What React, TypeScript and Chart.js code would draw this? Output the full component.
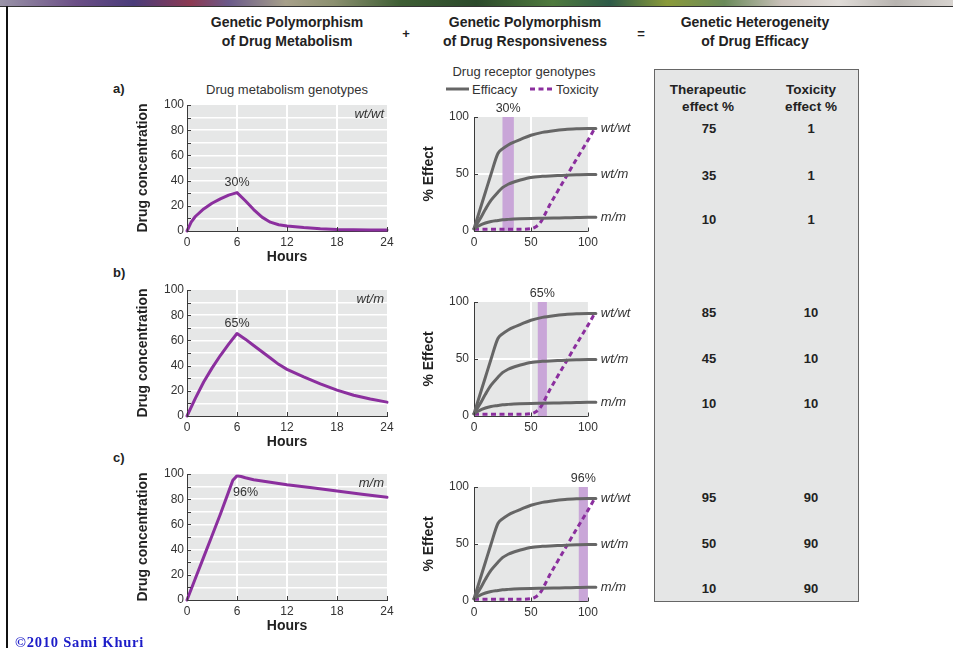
import React, { useEffect, useRef } from 'react';
import { Chart, registerables } from 'chart.js';

Chart.register(...registerables);

const FONT = "'Liberation Sans', Arial, Helvetica, sans-serif";
Chart.defaults.font.family = FONT;
Chart.defaults.color = '#333';

// ---------------- data ----------------
const hourTicks = [0, 6, 12, 18, 24];
const concTicks = [0, 10, 20, 30, 40, 50, 60, 70, 80, 90, 100];
const effectTicks = [0, 50, 100];

// drug metabolism genotypes: concentration vs hours
const hoursA = [0, 0.5, 1, 2, 3, 4, 5, 6, 7, 8, 9, 10, 11, 12, 14, 16, 18, 20, 22, 24];
const concA = [0, 7, 11.5, 17.5, 22, 25.5, 28.5, 30.5, 24, 17, 11, 7, 5, 4, 2.7, 1.7, 1.1, 0.9, 0.8, 0.8];
const hoursB = [0, 1, 2, 3, 4, 5, 6, 7, 8, 9, 10, 11, 12, 14, 16, 18, 20, 22, 24];
const concB = [0, 14, 27, 38, 48, 57, 65.5, 61, 56, 51, 46, 41, 37, 31, 25.5, 20.5, 16.5, 13.5, 11];
const hoursC = [0, 1, 2, 3, 4, 5, 5.5, 6, 6.5, 7, 8, 9, 10, 12, 15, 18, 21, 24];
const concC = [0, 17, 34, 51, 68, 86, 95, 98.5, 98, 97, 95.5, 94.5, 93.5, 91.5, 89, 86.5, 84, 81.5];

const metabolismGenotypes = ['wt/wt', 'wt/m', 'm/m'];
const peakLabels = ['30%', '65%', '96%'];

// drug receptor genotypes: % effect vs dose
const doses = [0, 5, 10, 15, 21, 25, 30, 35, 40, 50, 60, 70, 80, 90, 100, 107];
const effWtWt = [2, 18, 34, 50, 68, 72, 75.5, 78, 80, 84, 86.5, 88, 89, 89.6, 90, 90];
const effWtM = [2, 10, 19, 27, 34, 38, 41, 43, 44.5, 47, 48, 48.5, 49, 49.3, 49.5, 49.5];
const effMM = [2, 5, 7, 8.3, 9.2, 9.8, 10.2, 10.5, 10.7, 11, 11.2, 11.4, 11.6, 11.8, 12, 12];
const toxDoses = [0, 10, 20, 30, 40, 50, 54, 58, 62, 66, 70, 80, 90, 100, 106];
const toxicity = [1.5, 1.5, 1.5, 1.5, 1.5, 2, 3.5, 7, 14, 22, 29, 46, 63, 79.5, 90];
const receptorGenotypes = ['wt/wt', 'wt/m', 'm/m'];

// concentration windows (purple bands) on the dose axis
const bandA = [25, 35];
const bandB = [56, 64];
const bandC = [92, 100];

// table
const therapeuticA = [75, 35, 10];
const therapeuticB = [85, 45, 10];
const therapeuticC = [95, 50, 10];
const toxicityA = [1, 1, 1];
const toxicityB = [10, 10, 10];
const toxicityC = [90, 90, 90];

// ---------------- styles ----------------
const PLOT_BG = '#e6e7e7';
const PURPLE = '#8b2f9e';
const EFF = '#666666';
const BAND = '#c9a6d8';
const TEXT = '#333333';
const TITLE = '#222222';
const AXIS = '#3a3a3a';
const CLEAR = 'rgba(0,0,0,0)';

function makeConc(xs: number[], ys: number[], genotype: string, peakText: string, below: boolean) {
  const deco = {
    id: 'concDeco',
    beforeDraw(chart: any) {
      const { ctx, chartArea: a } = chart;
      ctx.save();
      ctx.fillStyle = PLOT_BG;
      ctx.fillRect(a.left, a.top, a.right - a.left, a.bottom - a.top);
      ctx.restore();
    },
    afterDraw(chart: any) {
      const { ctx, chartArea: a, scales } = chart;
      const x = scales.x;
      const y = scales.y;
      ctx.save();
      ctx.strokeStyle = AXIS;
      ctx.lineWidth = 1;
      ctx.beginPath();
      y.ticks.forEach((t: any) => {
        const py = Math.round(y.getPixelForValue(t.value)) + 0.5;
        ctx.moveTo(a.left, py);
        ctx.lineTo(a.left + 4, py);
      });
      x.ticks.forEach((t: any) => {
        const px = Math.round(x.getPixelForValue(t.value)) + 0.5;
        ctx.moveTo(px, a.bottom);
        ctx.lineTo(px, a.bottom - 4);
      });
      ctx.stroke();
      ctx.fillStyle = TEXT;
      ctx.textBaseline = 'middle';
      ctx.font = `italic 13px ${FONT}`;
      ctx.textAlign = 'right';
      ctx.fillText(genotype, x.getPixelForValue(x.max) - 3, y.getPixelForValue(y.max) + 9);
      const peak = Math.max(...ys);
      const i = ys.indexOf(peak);
      const px = x.getPixelForValue(xs[i]);
      const py = y.getPixelForValue(peak);
      ctx.font = `12.5px ${FONT}`;
      if (below) {
        ctx.textAlign = 'left';
        ctx.fillText(peakText, px - 4, py + 17);
      } else {
        ctx.textAlign = 'center';
        ctx.fillText(peakText, px, py - 10);
      }
      ctx.restore();
    },
  };
  return {
    type: 'line',
    data: {
      datasets: [
        {
          data: xs.map((v, i) => ({ x: v, y: ys[i] })),
          borderColor: PURPLE,
          borderWidth: 3,
          pointRadius: 0,
          tension: 0,
          clip: false,
          borderJoinStyle: 'round',
          borderCapStyle: 'round',
        },
      ],
    },
    options: {
      responsive: false,
      animation: false,
      events: [],
      layout: { padding: { top: 25, right: 13, left: 0, bottom: 0 } },
      plugins: { legend: { display: false }, tooltip: { enabled: false } },
      scales: {
        x: {
          type: 'linear',
          min: 0,
          max: 24,
          afterBuildTicks: (s: any) => {
            s.ticks = hourTicks.map((v) => ({ value: v }));
          },
          afterFit: (s: any) => {
            s.height = 35;
          },
          grid: {
            color: (c: any) => (c.tick && c.tick.value > 0 && c.tick.value < 24 ? '#ffffff' : CLEAR),
            lineWidth: 2,
            drawTicks: false,
          },
          border: { display: true, color: AXIS, width: 1 },
          ticks: { padding: 4, maxRotation: 0, autoSkip: false, color: TEXT, font: { size: 12 } },
          title: { display: true, text: 'Hours', color: TITLE, font: { size: 14, weight: 'bold' }, padding: 0 },
        },
        y: {
          type: 'linear',
          min: 0,
          max: 100,
          afterBuildTicks: (s: any) => {
            s.ticks = concTicks.map((v) => ({ value: v }));
          },
          afterFit: (s: any) => {
            s.width = 59;
          },
          grid: {
            color: (c: any) => (c.tick && c.tick.value > 0 && c.tick.value < 100 ? '#ffffff' : CLEAR),
            lineWidth: 1.5,
            drawTicks: false,
          },
          border: { display: true, color: AXIS, width: 1 },
          ticks: {
            padding: 3,
            autoSkip: false,
            color: TEXT,
            font: { size: 12 },
            callback: (v: any) => (Number(v) % 20 === 0 ? String(v) : ''),
          },
          title: {
            display: true,
            text: 'Drug concentration',
            color: TITLE,
            font: { size: 14, weight: 'bold' },
            padding: { top: 7, bottom: 0 },
          },
        },
      },
    },
    plugins: [deco],
  };
}

function makeEffect(band: number[], bandText: string) {
  const series = [effWtWt, effWtM, effMM];
  const deco = {
    id: 'effDeco',
    beforeDraw(chart: any) {
      const { ctx, scales } = chart;
      const x = scales.x;
      const y = scales.y;
      const l = x.getPixelForValue(0);
      const r = x.getPixelForValue(100);
      const t = y.getPixelForValue(100);
      const b = y.getPixelForValue(0);
      ctx.save();
      ctx.fillStyle = PLOT_BG;
      ctx.fillRect(l, t, r - l, b - t);
      ctx.restore();
    },
    beforeDatasetsDraw(chart: any) {
      const { ctx, scales } = chart;
      const x = scales.x;
      const y = scales.y;
      const l = x.getPixelForValue(band[0]);
      const r = x.getPixelForValue(band[1]);
      const t = y.getPixelForValue(100);
      const b = y.getPixelForValue(0);
      ctx.save();
      ctx.fillStyle = BAND;
      ctx.fillRect(l, t, r - l, b - t);
      ctx.fillStyle = TEXT;
      ctx.font = `12.5px ${FONT}`;
      ctx.textAlign = 'center';
      ctx.textBaseline = 'middle';
      ctx.fillText(bandText, (l + r) / 2, t - 8);
      ctx.restore();
    },
    afterDraw(chart: any) {
      const { ctx, scales } = chart;
      const x = scales.x;
      const y = scales.y;
      const x0 = x.getPixelForValue(0);
      const x100 = x.getPixelForValue(100);
      const b = Math.round(y.getPixelForValue(0)) + 0.5;
      ctx.save();
      ctx.strokeStyle = AXIS;
      ctx.lineWidth = 1;
      ctx.beginPath();
      ctx.moveTo(x0, b);
      ctx.lineTo(x100, b);
      effectTicks.forEach((v) => {
        const px = Math.round(x.getPixelForValue(v)) + 0.5;
        ctx.moveTo(px, b);
        ctx.lineTo(px, b - 4);
        const py = Math.round(y.getPixelForValue(v)) + 0.5;
        ctx.moveTo(x0, py);
        ctx.lineTo(x0 + 4, py);
      });
      ctx.stroke();
      ctx.fillStyle = TEXT;
      ctx.font = `italic 13px ${FONT}`;
      ctx.textAlign = 'left';
      ctx.textBaseline = 'middle';
      series.forEach((s, i) => {
        const lx = x.getPixelForValue(doses[doses.length - 1]) + 5;
        const ly = y.getPixelForValue(s[s.length - 1]);
        ctx.fillText(receptorGenotypes[i], lx, ly);
      });
      ctx.restore();
    },
  };
  const eff = (s: number[]) => ({
    data: doses.map((d, i) => ({ x: d, y: s[i] })),
    borderColor: EFF,
    borderWidth: 3,
    pointRadius: 0,
    cubicInterpolationMode: 'monotone',
    clip: false,
    borderCapStyle: 'round',
  });
  return {
    type: 'line',
    data: {
      datasets: [
        eff(effWtWt),
        eff(effWtM),
        eff(effMM),
        {
          data: toxDoses.map((d, i) => ({ x: d, y: toxicity[i] })),
          borderColor: PURPLE,
          borderWidth: 3,
          borderDash: [5, 3.5],
          pointRadius: 0,
          cubicInterpolationMode: 'monotone',
          clip: false,
        },
      ],
    },
    options: {
      responsive: false,
      animation: false,
      events: [],
      layout: { padding: { top: 22, right: 53, left: 0, bottom: 0 } },
      plugins: { legend: { display: false }, tooltip: { enabled: false } },
      scales: {
        x: {
          type: 'linear',
          min: 0,
          max: 108,
          afterBuildTicks: (s: any) => {
            s.ticks = effectTicks.map((v) => ({ value: v }));
          },
          afterFit: (s: any) => {
            s.height = 18;
          },
          grid: {
            color: (c: any) => (c.tick && c.tick.value === 50 ? '#ffffff' : CLEAR),
            lineWidth: 2,
            drawTicks: false,
          },
          border: { display: false },
          ticks: { padding: 4, maxRotation: 0, autoSkip: false, color: TEXT, font: { size: 12 } },
        },
        y: {
          type: 'linear',
          min: 0,
          max: 100,
          afterBuildTicks: (s: any) => {
            s.ticks = effectTicks.map((v) => ({ value: v }));
          },
          afterFit: (s: any) => {
            s.width = 62;
          },
          grid: {
            color: (c: any) => (c.tick && c.tick.value === 50 ? '#ffffff' : CLEAR),
            lineWidth: 2,
            drawTicks: false,
          },
          border: { display: true, color: AXIS, width: 1 },
          ticks: { padding: 5, autoSkip: false, color: TEXT, font: { size: 12 } },
          title: {
            display: true,
            text: '% Effect',
            color: TITLE,
            font: { size: 14, weight: 'bold' },
            padding: { top: 9, bottom: 0 },
          },
        },
      },
    },
    plugins: [deco],
  };
}

function ChartBox({ left, top, width, height, make }: any) {
  const ref = useRef<HTMLCanvasElement>(null);
  useEffect(() => {
    const chart = new Chart(ref.current as HTMLCanvasElement, make());
    return () => chart.destroy();
  }, []);
  return (
    <canvas
      ref={ref}
      width={width}
      height={height}
      style={{ position: 'absolute', left, top, width, height }}
    />
  );
}

function Txt({ x, y, children, size = 13, bold = false, italic = false, align = 'center', color = TITLE, style = {} }: any) {
  const tx = align === 'center' ? '-50%' : align === 'right' ? '-100%' : '0';
  return (
    <div
      style={{
        position: 'absolute',
        left: x,
        top: y,
        transform: `translate(${tx}, -50%)`,
        whiteSpace: 'nowrap',
        fontSize: size,
        fontWeight: bold ? 'bold' : 'normal',
        fontStyle: italic ? 'italic' : 'normal',
        lineHeight: 1,
        color,
        fontFamily: FONT,
        ...style,
      }}
    >
      {children}
    </div>
  );
}

const concTops = [80, 265, 449];
const effectTops = [95, 280, 465];
const rowY = [
  [128, 175, 219],
  [312, 358, 403],
  [497, 543, 588],
];

export default function App() {
  const concSets = [
    [hoursA, concA],
    [hoursB, concB],
    [hoursC, concC],
  ];
  const bands = [bandA, bandB, bandC];
  const therapeutic = [therapeuticA, therapeuticB, therapeuticC];
  const tox = [toxicityA, toxicityB, toxicityC];
  const panelLetters = ['a)', 'b)', 'c)'];
  const letterY = [88, 272, 457];

  return (
    <div
      style={{
        position: 'absolute',
        left: 0,
        top: 0,
        width: 953,
        height: 648,
        background: '#ffffff',
        overflow: 'hidden',
        fontFamily: FONT,
      }}
    >
      {/* banner strip */}
      <div
        style={{
          position: 'absolute',
          left: 0,
          top: 0,
          width: 953,
          height: 6,
          background:
            'linear-gradient(90deg, #9a94a8 0%, #6b4f86 8%, #4a3c7a 14%, #8c3a52 20%, #6a5a8a 24%, #a7a08a 30%, #8c9070 35%, #3e5e34 42%, #2c4a2c 50%, #4f7a3e 58%, #2e5a48 64%, #8a9a3a 70%, #6a8a5a 76%, #c8c0b8 82%, #e0dcd8 88%, #b8b4b0 94%, #d8d4d0 100%)',
          borderBottom: '1px solid #333',
        }}
      />
      {/* left rule */}
      <div style={{ position: 'absolute', left: 6, top: 6, width: 2, height: 642, background: '#111' }} />

      {/* headers */}
      <Txt x={287} y={22} size={14} bold>Genetic Polymorphism</Txt>
      <Txt x={287} y={41} size={14} bold>of Drug Metabolism</Txt>
      <Txt x={406} y={33} size={13} bold>+</Txt>
      <Txt x={525} y={22} size={14} bold>Genetic Polymorphism</Txt>
      <Txt x={525} y={41} size={14} bold>of Drug Responsiveness</Txt>
      <Txt x={641} y={33} size={13} bold>=</Txt>
      <Txt x={755} y={22} size={14} bold>Genetic Heterogeneity</Txt>
      <Txt x={755} y={41} size={14} bold>of Drug Efficacy</Txt>

      {/* sub headings */}
      <Txt x={287} y={89} size={13} color={TEXT}>Drug metabolism genotypes</Txt>
      <Txt x={524} y={71} size={13} color={TEXT}>Drug receptor genotypes</Txt>
      <svg style={{ position: 'absolute', left: 446, top: 84 }} width={110} height={10}>
        <line x1={0} y1={5} x2={23} y2={5} stroke={EFF} strokeWidth={3} />
        <line x1={84} y1={5} x2={107} y2={5} stroke={PURPLE} strokeWidth={3} strokeDasharray="5 3.5" />
      </svg>
      <Txt x={472} y={89} size={13} align="left" color={TEXT}>Efficacy</Txt>
      <Txt x={556} y={89} size={13} align="left" color={TEXT}>Toxicity</Txt>

      {panelLetters.map((l, i) => (
        <Txt key={l} x={113} y={letterY[i]} size={13} bold align="left">{l}</Txt>
      ))}

      {concSets.map((s, i) => (
        <ChartBox
          key={'c' + i}
          left={128}
          top={concTops[i]}
          width={272}
          height={186}
          make={() => makeConc(s[0], s[1], metabolismGenotypes[i], peakLabels[i], i === 2)}
        />
      ))}
      {bands.map((b, i) => (
        <ChartBox
          key={'e' + i}
          left={412}
          top={effectTops[i]}
          width={238}
          height={154}
          make={() => makeEffect(b, peakLabels[i])}
        />
      ))}

      {/* table */}
      <div
        style={{
          position: 'absolute',
          left: 654,
          top: 69,
          width: 203,
          height: 531,
          background: '#e5e6e6',
          border: '1.5px solid #666',
        }}
      />
      <Txt x={708} y={90} size={13.5} bold>Therapeutic</Txt>
      <Txt x={708} y={107} size={13.5} bold>effect %</Txt>
      <Txt x={811} y={90} size={13.5} bold>Toxicity</Txt>
      <Txt x={811} y={107} size={13.5} bold>effect %</Txt>
      {therapeutic.map((col, i) =>
        col.map((v, j) => (
          <React.Fragment key={`t${i}${j}`}>
            <Txt x={709} y={rowY[i][j]} size={13} bold>{v}</Txt>
            <Txt x={811} y={rowY[i][j]} size={13} bold>{tox[i][j]}</Txt>
          </React.Fragment>
        ))
      )}

      <div
        style={{
          position: 'absolute',
          left: 15,
          top: 634,
          fontFamily: "'Liberation Serif', 'Times New Roman', serif",
          fontWeight: 'bold',
          fontSize: 14.5,
          letterSpacing: 0.8,
          color: '#1c1cc8',
          whiteSpace: 'nowrap',
          lineHeight: '16px',
        }}
      >
        ©2010 Sami Khuri
      </div>
    </div>
  );
}
